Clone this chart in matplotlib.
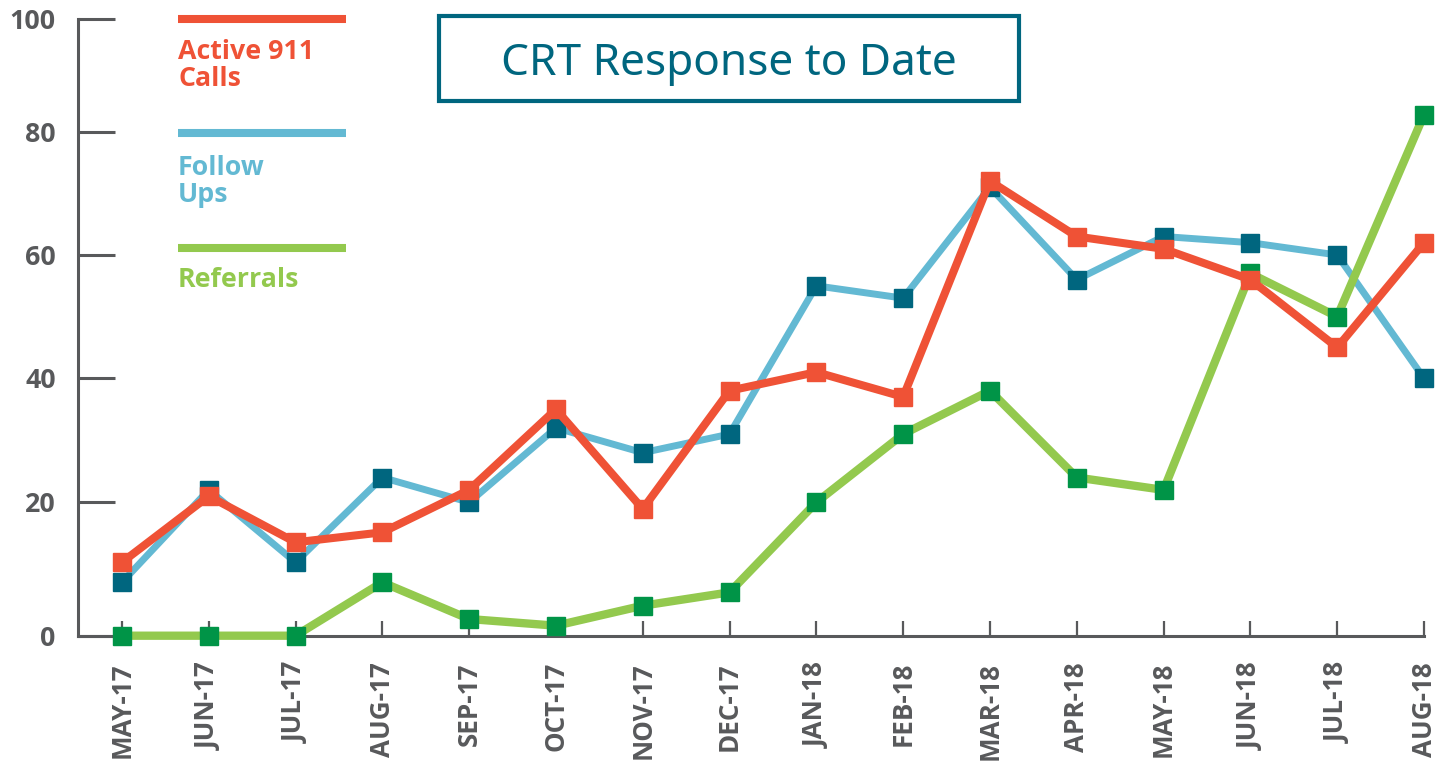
import numpy as np
import matplotlib
matplotlib.use('Agg')
from matplotlib import pyplot as plt
from matplotlib.lines import Line2D
from matplotlib.patches import Rectangle

plt.rcParams['font.family'] = ['Open Sans', 'DejaVu Sans']

months = ['MAY-17', 'JUN-17', 'JUL-17', 'AUG-17', 'SEP-17', 'OCT-17', 'NOV-17', 'DEC-17',
          'JAN-18', 'FEB-18', 'MAR-18', 'APR-18', 'MAY-18', 'JUN-18', 'JUL-18', 'AUG-18']
active_911 = [11, 21, 14, 15.5, 22, 35, 19, 38, 41, 37, 72, 63, 61, 56, 45, 62]
follow_ups = [8, 22, 11, 24, 20, 32, 28, 31, 55, 53, 71, 56, 63, 62, 60, 40]
referrals = [0, 0, 0, 8, 2.5, 1.5, 4.5, 6.5, 20, 31, 38, 24, 22, 57, 50, 83]
yticks = [0, 20, 40, 60, 80, 100]
# the printed axis is not evenly spaced: pixel height of each tick above zero
ytick_px = [0, 133.4, 257.4, 380.7, 504, 617]

RED = '#ef5236'
BLUE = '#63b9d3'
TEAL = '#00667f'
GREEN = '#93c94e'
DKGREEN = '#009447'
GREY = '#58595b'

W, H = 1450, 764
fig = plt.figure(figsize=(W / 100, H / 100), dpi=100)
ax = fig.add_axes([78 / W, (H - 635.7) / H, (1424 - 78) / W, 617 / H])

def fwd(v):
    return np.interp(v, yticks, ytick_px)

def inv(p):
    return np.interp(p, ytick_px, yticks)

ax.set_yscale('function', functions=(fwd, inv))

x = np.arange(len(months))
ax.plot(x, follow_ups, color=BLUE, lw=5, marker='s', ms=13, mfc=TEAL, mec=TEAL,
        clip_on=False, zorder=3)
ax.plot(x, referrals, color=GREEN, lw=6, marker='s', ms=13, mfc=DKGREEN, mec=DKGREEN,
        clip_on=False, zorder=4)
ax.plot(x, active_911, color=RED, lw=5.8, marker='s', ms=13, mfc=RED, mec=RED,
        clip_on=False, zorder=5)

ax.set_xlim(-0.506, 15)
ax.set_ylim(0, 100)
ax.set_yticks(yticks)
ax.set_yticklabels([str(v) for v in yticks])
ax.set_xticks(x)
ax.set_xticklabels(months, rotation=90)
ax.yaxis.set_minor_locator(matplotlib.ticker.NullLocator())

for s in ['top', 'right']:
    ax.spines[s].set_visible(False)
for s in ['left', 'bottom']:
    ax.spines[s].set_color(GREY)
    ax.spines[s].set_linewidth(2.2)

ax.tick_params(axis='y', direction='in', length=26.4, width=2.2, color=GREY, pad=16,
               labelsize=19.3, labelcolor=GREY)
ax.tick_params(axis='x', direction='in', length=11, width=1.6, color=GREY, pad=19,
               labelsize=18.7, labelcolor=GREY)
for lab in ax.get_xticklabels() + ax.get_yticklabels():
    lab.set_fontweight('bold')

# legend drawn by hand: a bar with the label under it
legend = [(RED, 19, ['Active 911', 'Calls'], [59.3, 85.5]),
          (BLUE, 132.7, ['Follow', 'Ups'], [175, 201.5]),
          (GREEN, 248, ['Referrals'], [287.3])]
for col, ly, lines, bases in legend:
    fig.add_artist(Line2D([178 / W, 346 / W], [1 - ly / H] * 2, color=col, lw=5.8,
                          solid_capstyle='butt'))
    for txt, b in zip(lines, bases):
        fig.text(178 / W, 1 - b / H, txt, color=col, fontsize=19.3, fontweight='bold',
                 ha='left', va='baseline')

fig.add_artist(Rectangle((439 / W, 1 - 101 / H), 580 / W, 85 / H, transform=fig.transFigure,
                         fill=False, ec=TEAL, lw=3))
fig.text(729 / W, 1 - 75 / H, 'CRT Response to Date', color=TEAL, fontsize=31.8,
         family='Noto Sans', fontweight='medium', ha='center', va='baseline')

fig.savefig('out.png', dpi=100)
